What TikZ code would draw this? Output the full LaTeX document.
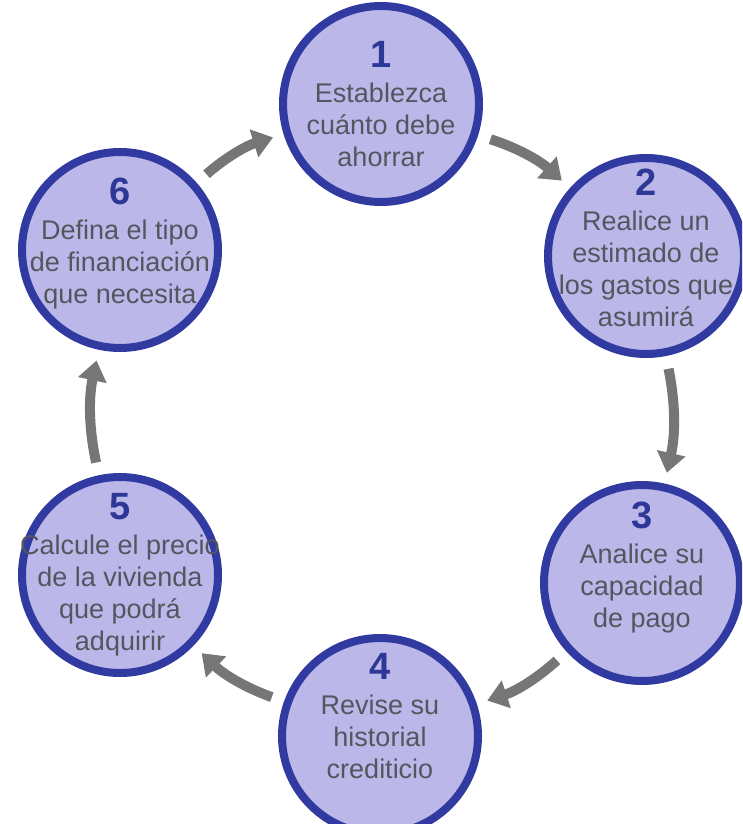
\documentclass[tikz,border=0pt]{standalone}
\usepackage{fontspec}
\setmainfont{Liberation Sans}
\usetikzlibrary{
  arrows.meta,
  calc
}
\definecolor{discfill}{RGB}{188, 183, 233}
\definecolor{ringblue}{RGB}{48, 58, 160}
\definecolor{numblue}{RGB}{45, 55, 150}
\definecolor{txtgray}{RGB}{85, 85, 95}
\definecolor{flowgray}{RGB}{118, 118, 118}
\tikzset{
  % Circulos de los pasos
  stepdisc/.style = {circle, minimum size=196pt, inner sep=0pt,
                     fill=discfill, draw=ringblue, line width=8pt},
  % Texto de cada paso
  steptext/.style = {text=txtgray, align=center, inner sep=0pt,
                     font=\fontsize{27}{32}\selectfont},
  % Flechas entre pasos
  flow/.style     = {-{Triangle[width=28pt,length=20pt]}, line width=10pt,
                     draw=flowgray, shorten <=13pt, shorten >=11pt},
}
\newcommand{\stepnum}[1]{{\fontsize{38}{40}\selectfont\bfseries\color{numblue}#1}}

\begin{document}
\begin{tikzpicture}[x=1pt, y=-1pt]
  \useasboundingbox (0,0) rectangle (742,824);
  \clip (0,0) rectangle (742,824);
  % circulos
  \node[stepdisc] (c1) at (381,104) {};
  \node[stepdisc] (c2) at (646,256) {};
  \node[stepdisc] (c3) at (642,583) {};
  \node[stepdisc] (c4) at (380,736) {};
  \node[stepdisc] (c5) at (120,575) {};
  \node[stepdisc] (c6) at (120,250) {};
  % textos
  \node[steptext] (t1) at ($(c1)+(0,0)$) {\stepnum{1}\\[3pt]Establezca\\cuánto debe\\ahorrar};
  \node[steptext] (t2) at ($(c2)+(0,-8)$) {\stepnum{2}\\[3pt]Realice un\\estimado de\\los gastos que\\asumirá};
  \node[steptext] (t3) at ($(c3)+(0,-15)$) {\stepnum{3}\\[3pt]Analice su\\capacidad\\de pago};
  \node[steptext] (t4) at ($(c4)+(0,-20)$) {\stepnum{4}\\[3pt]Revise su\\historial\\crediticio};
  \node[steptext] (t5) at ($(c5)+(0,0)$) {\stepnum{5}\\[3pt]Calcule el precio\\de la vivienda\\que podrá\\adquirir};
  \node[steptext] (t6) at ($(c6)+(0,-6)$) {\stepnum{6}\\[3pt]Defina el tipo\\de financiación\\que necesita};
  % flechas
  \foreach \a/\b in {c1/c2, c2/c3, c3/c4, c4/c5, c5/c6, c6/c1}
    \draw[flow] (\a) to[bend left=12] (\b);
\end{tikzpicture}
\end{document}
